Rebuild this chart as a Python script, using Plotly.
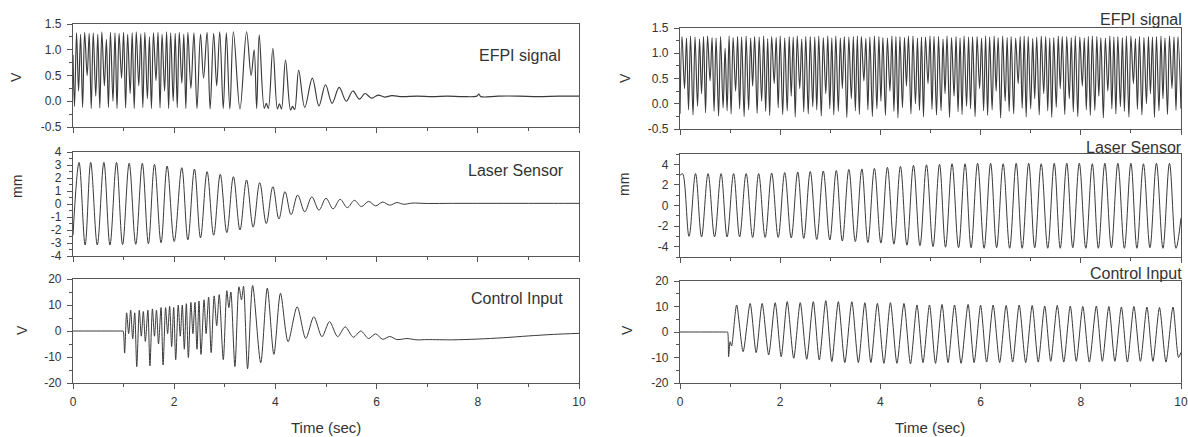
import plotly.graph_objects as go

# ---------------- data ----------------
time_ticks = [0, 2, 4, 6, 8, 10]
time_tick_text = ["0", "2", "4", "6", "8", "10"]

# Left column: EFPI signal (V) -- extrema of the fringes, in four phases
LE1_t = [0.00, 0.03, 0.07, 0.11, 0.15, 0.19, 0.23, 0.28, 0.32, 0.36,
         0.40, 0.45, 0.49, 0.53, 0.57, 0.62, 0.66, 0.70, 0.74, 0.79,
         0.83, 0.87, 0.91, 0.96, 1.00, 1.04, 1.08, 1.13, 1.17, 1.21,
         1.25, 1.30, 1.34, 1.38, 1.42, 1.47, 1.51, 1.55, 1.59, 1.64,
         1.68, 1.72, 1.76, 1.81, 1.85, 1.89, 1.93, 1.98, 2.02, 2.06,
         2.10, 2.15, 2.19, 2.23, 2.27]
LE1_v = [0.90, -0.10, 1.33, 0.20, 1.30, -0.12, 1.34, 0.50, 1.32, -0.14,
         1.33, 0.10, 1.30, -0.13, 1.35, 0.30, 1.20, -0.12, 1.34, 0.00,
         1.33, -0.14, 1.32, 0.45, 1.34, -0.13, 1.30, 0.15, 1.33, -0.14,
         1.35, 0.30, 1.31, -0.12, 1.34, 0.05, 1.25, -0.14, 1.33, 0.40,
         1.34, -0.13, 1.30, 0.20, 1.35, -0.14, 1.33, 0.00, 1.32, -0.12,
         1.34, 0.35, 1.30, -0.14, 1.34]
LE2_t = [2.33, 2.39, 2.45, 2.52, 2.58, 2.65, 2.71, 2.78, 2.84, 2.90, 2.97, 3.03]
LE2_v = [0.25, 1.33, -0.14, 1.30, 0.45, 1.34, -0.15, 1.32, 0.30, 1.35, -0.14, 1.33]
LE3_t = [3.10, 3.17, 3.30, 3.43, 3.52, 3.58, 3.63, 3.68, 3.78, 3.82,
         3.86, 3.95, 4.04, 4.08, 4.12, 4.20, 4.30, 4.34, 4.38, 4.46,
         4.58, 4.73, 4.86, 4.99, 5.12, 5.26, 5.40, 5.53, 5.66, 5.77,
         5.90, 6.03, 6.16, 6.30]
LE3_v = [-0.15, 1.35, -0.15, 1.35, 0.50, 1.00, -0.14, 1.29, -0.14, -0.04,
         -0.14, 1.03, -0.15, -0.05, -0.15, 0.80, -0.17, -0.10, -0.16, 0.60,
         -0.12, 0.45, -0.09, 0.32, -0.04, 0.27, 0.00, 0.20, 0.04, 0.15,
         0.06, 0.12, 0.08, 0.11]
LE4_t = [6.50, 6.80, 7.10, 7.40, 7.70, 7.98, 8.02, 8.06, 8.40, 8.80, 9.20, 9.60, 10.00]
LE4_v = [0.09, 0.10, 0.09, 0.10, 0.09, 0.10, 0.14, 0.09, 0.10, 0.10, 0.09, 0.10, 0.10]

# Left column: Laser sensor (mm)
LL_t = [0.00, 0.12, 0.24, 0.35, 0.48, 0.61, 0.73, 0.86, 0.98, 1.11,
        1.24, 1.37, 1.49, 1.61, 1.74, 1.86, 2.00, 2.15, 2.27, 2.40,
        2.52, 2.65, 2.78, 2.91, 3.04, 3.17, 3.30, 3.43, 3.56, 3.69,
        3.82, 3.95, 4.07, 4.19, 4.31, 4.44, 4.58, 4.72, 4.86, 5.00,
        5.14, 5.28, 5.42, 5.56, 5.70, 5.84, 5.98, 6.12, 6.26, 6.40,
        6.54, 6.70, 7.00, 7.50, 8.00, 8.50, 9.00, 9.50, 10.00]
LL_v = [-2.40, 3.20, -3.15, 3.20, -3.15, 3.20, -3.15, 3.20, -3.12, 3.13,
        -3.10, 3.13, -3.05, 3.05, -2.98, 2.92, -2.88, 2.79, -2.75, 2.69,
        -2.60, 2.49, -2.40, 2.28, -2.20, 2.10, -2.00, 1.85, -1.78, 1.64,
        -1.50, 1.33, -1.15, 0.95, -0.82, 0.69, -0.60, 0.55, -0.47, 0.44,
        -0.37, 0.36, -0.28, 0.28, -0.20, 0.20, -0.14, 0.15, -0.09, 0.11,
        -0.02, 0.07, 0.04, 0.05, 0.05, 0.05, 0.05, 0.05, 0.05]

# Left column: Control input (V)
LC_t = [0.00, 0.97, 0.99, 1.02, 1.06, 1.10, 1.14, 1.18, 1.22, 1.26, 1.31,
        1.35, 1.39, 1.43, 1.48, 1.52, 1.57, 1.61, 1.65, 1.69, 1.74,
        1.78, 1.83, 1.87, 1.91, 1.95, 1.99, 2.03, 2.08, 2.12, 2.16,
        2.20, 2.24, 2.28, 2.33, 2.37, 2.41, 2.45, 2.49, 2.53, 2.59,
        2.63, 2.68, 2.73, 2.79, 2.84, 2.89, 2.97, 3.04, 3.08, 3.12,
        3.20, 3.28, 3.33, 3.37, 3.45, 3.55, 3.71, 3.84, 3.97, 4.10,
        4.25, 4.43, 4.60, 4.76, 4.92, 5.07, 5.23, 5.38, 5.54, 5.69,
        5.84, 5.98, 6.12, 6.26, 6.40, 6.60, 6.80, 7.00, 7.50, 8.00,
        8.50, 9.00, 9.50, 10.00]
LC_v = [0.0, 0.0, 0.0, -8.5, 7.0, -1.0, 8.0, -3.0, 7.0, -13.7, 8.0,
        -2.0, 7.5, -4.0, 8.0, -13.4, 8.5, -2.0, 8.0, -5.0, 9.0,
        -13.1, 9.0, -1.0, 9.5, -6.0, 9.0, -11.0, 10.0, -2.0, 10.0,
        -7.0, 10.5, -10.2, 11.0, -1.0, 11.0, -7.0, 11.5, -9.0, 12.0,
        -1.0, 13.0, -8.3, 13.5, 2.0, 14.0, -11.0, 15.5, 9.0, 15.0,
        -13.7, 17.0, 12.0, 17.2, -14.5, 17.5, -12.2, 16.5, -9.0, 14.5,
        -4.1, 9.3, -2.9, 5.5, -2.2, 3.6, -2.2, 1.6, -2.4, 0.0,
        -2.9, -1.1, -3.2, -2.1, -3.3, -2.9, -3.4, -3.3, -3.4, -3.1,
        -2.6, -1.9, -1.3, -0.9]

# Right column: EFPI signal (V) -- three fringes per vibration cycle
RE_t = [0.00, 0.04, 0.09, 0.13, 0.17, 0.21,
        0.26, 0.30, 0.35, 0.39, 0.43, 0.47,
        0.51, 0.55, 0.60, 0.64, 0.68, 0.72,
        0.77, 0.81, 0.86, 0.90, 0.94, 0.98,
        1.02, 1.06, 1.11, 1.15, 1.19, 1.23,
        1.28, 1.32, 1.37, 1.41, 1.45, 1.49,
        1.54, 1.58, 1.63, 1.67, 1.71, 1.75,
        1.79, 1.83, 1.88, 1.92, 1.96, 2.00,
        2.05, 2.09, 2.14, 2.18, 2.22, 2.26,
        2.30, 2.34, 2.39, 2.43, 2.47, 2.51,
        2.56, 2.60, 2.65, 2.69, 2.73, 2.77,
        2.82, 2.86, 2.91, 2.95, 2.99, 3.03,
        3.07, 3.11, 3.16, 3.20, 3.24, 3.28,
        3.33, 3.37, 3.42, 3.46, 3.50, 3.54,
        3.58, 3.62, 3.67, 3.71, 3.75, 3.79,
        3.84, 3.88, 3.93, 3.97, 4.01, 4.05,
        4.10, 4.14, 4.19, 4.23, 4.27, 4.31,
        4.35, 4.39, 4.44, 4.48, 4.52, 4.56,
        4.61, 4.65, 4.70, 4.74, 4.78, 4.82,
        4.86, 4.90, 4.95, 4.99, 5.03, 5.07,
        5.12, 5.16, 5.21, 5.25, 5.29, 5.33,
        5.38, 5.42, 5.47, 5.51, 5.55, 5.59,
        5.63, 5.67, 5.72, 5.76, 5.80, 5.84,
        5.89, 5.93, 5.98, 6.02, 6.06, 6.10,
        6.14, 6.18, 6.23, 6.27, 6.31, 6.35,
        6.40, 6.44, 6.49, 6.53, 6.57, 6.61,
        6.66, 6.70, 6.75, 6.79, 6.83, 6.87,
        6.91, 6.95, 7.00, 7.04, 7.08, 7.12,
        7.17, 7.21, 7.26, 7.30, 7.34, 7.38,
        7.42, 7.46, 7.51, 7.55, 7.59, 7.63,
        7.68, 7.72, 7.77, 7.81, 7.85, 7.89,
        7.94, 7.98, 8.03, 8.07, 8.11, 8.15,
        8.19, 8.23, 8.28, 8.32, 8.36, 8.40,
        8.45, 8.49, 8.54, 8.58, 8.62, 8.66,
        8.70, 8.74, 8.79, 8.83, 8.87, 8.91,
        8.96, 9.00, 9.05, 9.09, 9.13, 9.17,
        9.22, 9.26, 9.31, 9.35, 9.39, 9.43,
        9.47, 9.51, 9.56, 9.60, 9.64, 9.68,
        9.73, 9.77, 9.82, 9.86, 9.90, 9.94,
        10.00]
RE_v = [-0.20, 1.33, 0.30, 1.30, -0.12, 1.34,
        -0.22, 1.32, -0.05, 1.28, 0.20, 1.33,
        -0.18, 1.34, 0.45, 1.31, -0.15, 1.30,
        -0.24, 1.33, -0.08, 1.10, -0.14, 1.34,
        -0.20, 1.31, 0.25, 1.33, -0.10, 1.32,
        -0.25, 1.34, -0.12, 1.30, 0.35, 1.33,
        -0.19, 1.32, 0.05, 1.34, -0.15, 1.29,
        -0.23, 1.33, 0.40, 1.31, -0.08, 1.34,
        -0.21, 1.30, -0.14, 1.33, 0.15, 1.32,
        -0.26, 1.34, 0.30, 1.28, -0.16, 1.33,
        -0.20, 1.33, -0.06, 1.32, -0.12, 1.34,
        -0.24, 1.31, 0.20, 1.34, -0.10, 1.30,
        -0.22, 1.34, -0.15, 1.30, 0.30, 1.33,
        -0.27, 1.32, 0.10, 1.33, -0.14, 1.34,
        -0.21, 1.33, 0.45, 1.29, -0.12, 1.32,
        -0.25, 1.34, -0.10, 1.33, 0.05, 1.31,
        -0.23, 1.30, 0.25, 1.34, -0.15, 1.33,
        -0.28, 1.33, -0.08, 1.31, 0.35, 1.34,
        -0.20, 1.34, 0.00, 1.30, -0.13, 1.32,
        -0.26, 1.32, 0.40, 1.34, -0.11, 1.33,
        -0.22, 1.33, -0.14, 1.28, 0.20, 1.34,
        -0.27, 1.31, 0.15, 1.33, -0.16, 1.30,
        -0.21, 1.34, -0.05, 1.32, -0.10, 1.33,
        -0.25, 1.33, 0.30, 1.30, -0.14, 1.34,
        -0.23, 1.32, -0.12, 1.34, 0.25, 1.31,
        -0.28, 1.34, 0.05, 1.31, -0.15, 1.33,
        -0.20, 1.30, 0.40, 1.33, -0.09, 1.34,
        -0.26, 1.33, -0.10, 1.29, 0.10, 1.32,
        -0.22, 1.34, 0.20, 1.33, -0.14, 1.30,
        -0.27, 1.31, -0.07, 1.34, 0.30, 1.33,
        -0.21, 1.33, 0.10, 1.31, -0.16, 1.34,
        -0.25, 1.32, 0.35, 1.30, -0.12, 1.33,
        -0.23, 1.34, -0.13, 1.33, 0.15, 1.31,
        -0.28, 1.30, 0.25, 1.34, -0.10, 1.32,
        -0.20, 1.33, -0.06, 1.31, -0.15, 1.34,
        -0.26, 1.34, 0.40, 1.29, -0.11, 1.33,
        -0.22, 1.31, 0.00, 1.33, 0.20, 1.32,
        -0.27, 1.33, -0.14, 1.34, 0.10, 1.30,
        -0.21, 1.34, 0.30, 1.32, -0.13, 1.33,
        -0.10]

# Right column: Laser sensor (mm) -- peaks and troughs
RL_start = (0.00, 2.90)
RL_end = (10.00, -1.20)
RL_peak_t = [0.05, 0.31, 0.56, 0.82, 1.07, 1.32, 1.57, 1.83, 2.09, 2.35,
             2.60, 2.86, 3.12, 3.37, 3.63, 3.88, 4.14, 4.40, 4.66, 4.92,
             5.18, 5.43, 5.69, 5.94, 6.20, 6.45, 6.71, 6.96, 7.21, 7.47,
             7.72, 7.97, 8.23, 8.48, 8.74, 9.00, 9.25, 9.51, 9.77]
RL_peak_v = [3.10, 3.10, 3.10, 3.10, 3.10, 3.10, 3.10, 3.15, 3.20, 3.25,
             3.30, 3.35, 3.40, 3.50, 3.55, 3.60, 3.70, 3.80, 3.90, 3.95,
             4.00, 4.05, 4.05, 4.10, 4.10, 4.05, 4.10, 4.10, 4.05, 4.10,
             4.10, 4.10, 4.05, 4.10, 4.10, 4.10, 4.05, 4.10, 4.10]
RL_trough_t = [0.18, 0.43, 0.69, 0.94, 1.19, 1.45, 1.70, 1.96, 2.22, 2.47,
               2.73, 2.99, 3.24, 3.50, 3.75, 4.01, 4.27, 4.53, 4.79, 5.05,
               5.30, 5.56, 5.81, 6.07, 6.32, 6.58, 6.83, 7.08, 7.34, 7.59,
               7.84, 8.10, 8.35, 8.61, 8.87, 9.12, 9.38, 9.64, 9.90]
RL_trough_v = [-3.00, -3.05, -3.05, -3.05, -3.05, -3.10, -3.10, -3.10, -3.15, -3.20,
               -3.30, -3.35, -3.45, -3.50, -3.60, -3.65, -3.75, -3.85, -3.90, -4.00,
               -4.05, -4.10, -4.10, -4.15, -4.10, -4.15, -4.15, -4.10, -4.15, -4.15,
               -4.10, -4.15, -4.15, -4.10, -4.15, -4.15, -4.10, -4.15, -4.15]

# Right column: Control input (V)
RC_start_t = [0.00, 0.93, 0.95, 0.97, 1.00, 1.03]
RC_start_v = [0.0, 0.0, 0.0, -9.7, -3.8, -5.5]
RC_end = (10.00, -8.0)
RC_peak_t = [1.13, 1.40, 1.64, 1.90, 2.14, 2.40, 2.66, 2.91, 3.16, 3.43,
             3.69, 3.94, 4.20, 4.47, 4.73, 4.98, 5.23, 5.48, 5.75, 6.00,
             6.25, 6.51, 6.77, 7.03, 7.28, 7.53, 7.79, 8.04, 8.31, 8.56,
             8.81, 9.06, 9.32, 9.57, 9.84]
RC_peak_v = [10.6, 11.2, 11.2, 11.5, 11.9, 11.5, 11.9, 12.3, 11.9, 11.9,
             11.5, 11.2, 11.5, 11.2, 10.6, 10.6, 10.8, 10.6, 10.8, 10.5,
             10.6, 10.4, 10.6, 10.4, 10.2, 10.4, 10.2, 10.0, 10.2, 10.0,
             9.8, 10.0, 9.8, 9.6, 9.8]
RC_trough_t = [1.26, 1.52, 1.77, 2.02, 2.27, 2.53, 2.78, 3.03, 3.29, 3.56,
               3.81, 4.07, 4.33, 4.60, 4.85, 5.10, 5.35, 5.61, 5.87, 6.12,
               6.38, 6.64, 6.90, 7.15, 7.40, 7.66, 7.91, 8.17, 8.43, 8.68,
               8.93, 9.19, 9.44, 9.70, 9.95]
RC_trough_v = [-7.7, -8.1, -9.0, -9.7, -10.3, -10.7, -11.0, -11.6, -12.0, -12.0,
               -12.0, -12.3, -12.3, -12.5, -12.0, -12.3, -12.0, -12.3, -12.0, -11.8,
               -12.0, -11.8, -12.0, -11.8, -11.5, -11.8, -11.5, -11.8, -11.5, -11.5,
               -11.8, -11.5, -11.5, -11.8, -10.0]

for name, a, b in [("LE1", LE1_t, LE1_v), ("LE2", LE2_t, LE2_v), ("LE3", LE3_t, LE3_v),
                   ("LE4", LE4_t, LE4_v), ("LL", LL_t, LL_v), ("LC", LC_t, LC_v),
                   ("RE", RE_t, RE_v), ("RLp", RL_peak_t, RL_peak_v),
                   ("RLt", RL_trough_t, RL_trough_v), ("RCp", RC_peak_t, RC_peak_v),
                   ("RCt", RC_trough_t, RC_trough_v), ("RCs", RC_start_t, RC_start_v)]:
    assert len(a) == len(b), (name, len(a), len(b))

# assemble series (ordering only)
LE_t = LE1_t + LE2_t + LE3_t + LE4_t
LE_v = LE1_v + LE2_v + LE3_v + LE4_v

RL_t, RL_v = [RL_start[0]], [RL_start[1]]
for pt, pv, tt, tv in zip(RL_peak_t, RL_peak_v, RL_trough_t, RL_trough_v):
    RL_t += [pt, tt]
    RL_v += [pv, tv]
RL_t.append(RL_end[0]); RL_v.append(RL_end[1])

RC_t, RC_v = list(RC_start_t), list(RC_start_v)
for pt, pv, tt, tv in zip(RC_peak_t, RC_peak_v, RC_trough_t, RC_trough_v):
    RC_t += [pt, tt]
    RC_v += [pv, tv]
RC_t.append(RC_end[0]); RC_v.append(RC_end[1])

# ---------------- layout ----------------
W, H = 1188, 437
FONT = "Liberation Sans, Arial, sans-serif"
INK = "#3a3a3a"
FRAME = "#555555"
TXT = "#333333"


def fx(p):
    return p / W


def fy(p):
    return 1 - p / H


panels = [
    # axis suffix, x px, y px, y range, tickvals, ticktext, minor dtick, show x labels
    ("", (73, 579), (24, 127), [-0.5, 1.5], [-0.5, 0, 0.5, 1.0, 1.5],
     ["-0.5", "0.0", "0.5", "1.0", "1.5"], 0.25, False),
    ("2", (73, 579), (152, 256), [-4, 4], [-4, -3, -2, -1, 0, 1, 2, 3, 4],
     ["-4", "-3", "-2", "-1", "0", "1", "2", "3", "4"], 0.5, False),
    ("3", (73, 579), (279, 383), [-20, 20], [-20, -10, 0, 10, 20],
     ["-20", "-10", "0", "10", "20"], 5, True),
    ("4", (680, 1181), (28, 129), [-0.5, 1.5], [-0.5, 0, 0.5, 1.0, 1.5],
     ["-0.5", "0.0", "0.5", "1.0", "1.5"], 0.25, False),
    ("5", (680, 1181), (154, 257), [-5, 5], [-4, -2, 0, 2, 4],
     ["-4", "-2", "0", "2", "4"], 1, False),
    ("6", (680, 1181), (281, 383), [-20, 20], [-20, -10, 0, 10, 20],
     ["-20", "-10", "0", "10", "20"], 5, True),
]

fig = go.Figure()

series = [("", LE_t, LE_v, 1.0, 1.15), ("2", LL_t, LL_v, 1.0, 1.0), ("3", LC_t, LC_v, 0.8, 1.0),
          ("4", RE_t, RE_v, 1.0, 1.15), ("5", RL_t, RL_v, 1.0, 1.0), ("6", RC_t, RC_v, 0.7, 1.0)]
for suf, xs, ys, sm, lw in series:
    fig.add_trace(go.Scatter(
        x=xs, y=ys, mode="lines",
        line=dict(color=INK, width=lw, shape="spline", smoothing=sm),
        xaxis="x" + suf, yaxis="y" + suf, hoverinfo="skip", showlegend=False))

layout = dict(width=W, height=H, margin=dict(l=0, r=0, t=0, b=0, autoexpand=False),
              paper_bgcolor="white", plot_bgcolor="white", showlegend=False)
tickfont = dict(family=FONT, size=12, color=TXT)
for suf, (x0, x1), (y0, y1), yr, tv, tt, mdt, showx in panels:
    layout["xaxis" + suf] = dict(
        domain=[fx(x0), fx(x1)], anchor="y" + suf, range=[0, 10],
        tickvals=time_ticks, ticktext=time_tick_text, showticklabels=showx,
        ticks="outside", ticklen=5, tickwidth=1, tickcolor=FRAME,
        minor=dict(dtick=1, tick0=0, ticks="outside", ticklen=3, tickcolor=FRAME, showgrid=False),
        showline=True, mirror=True, linecolor=FRAME, linewidth=1.2,
        showgrid=False, zeroline=False, tickfont=tickfont, ticklabelstandoff=2,
        automargin=False, fixedrange=True)
    layout["yaxis" + suf] = dict(
        domain=[fy(y1), fy(y0)], anchor="x" + suf, range=yr,
        tickvals=tv, ticktext=tt,
        ticks="outside", ticklen=5, tickwidth=1, tickcolor=FRAME,
        minor=dict(dtick=mdt, tick0=0, ticks="outside", ticklen=3, tickcolor=FRAME, showgrid=False),
        showline=True, mirror=True, linecolor=FRAME, linewidth=1.2,
        showgrid=False, zeroline=False, tickfont=tickfont, ticklabelstandoff=3,
        automargin=False, fixedrange=True)

ann = []
label_font = dict(family=FONT, size=16, color=TXT)
for text, xr, yc in [("EFPI signal", 563, 55), ("Laser Sensor", 566, 170), ("Control Input", 565, 298),
                     ("EFPI signal", 1184, 20), ("Laser Sensor", 1184, 147), ("Control Input", 1184, 273)]:
    ann.append(dict(text=text, x=fx(xr), y=fy(yc), xref="paper", yref="paper",
                    xanchor="right", yanchor="middle", showarrow=False, font=label_font))

ytitle_font = dict(family=FONT, size=14, color=TXT)
for text, xc, yc in [("V", 16, 77), ("mm", 17, 187), ("V", 22, 330),
                     ("V", 625, 78), ("mm", 624, 185), ("V", 627, 330)]:
    ann.append(dict(text=text, x=fx(xc), y=fy(yc), xref="paper", yref="paper",
                    xanchor="center", yanchor="middle", textangle=-90, showarrow=False,
                    font=ytitle_font))

xtitle_font = dict(family=FONT, size=15, color=TXT)
for xc in (326, 930):
    ann.append(dict(text="Time (sec)", x=fx(xc), y=fy(427), xref="paper", yref="paper",
                    xanchor="center", yanchor="middle", showarrow=False, font=xtitle_font))

layout["annotations"] = ann
fig.update_layout(**layout)

fig.write_html(
    "out.html",
    config={"displayModeBar": False},
    post_script="document.body.style.margin='0';document.body.style.padding='0';"
                "document.body.style.overflow='hidden';",
)
